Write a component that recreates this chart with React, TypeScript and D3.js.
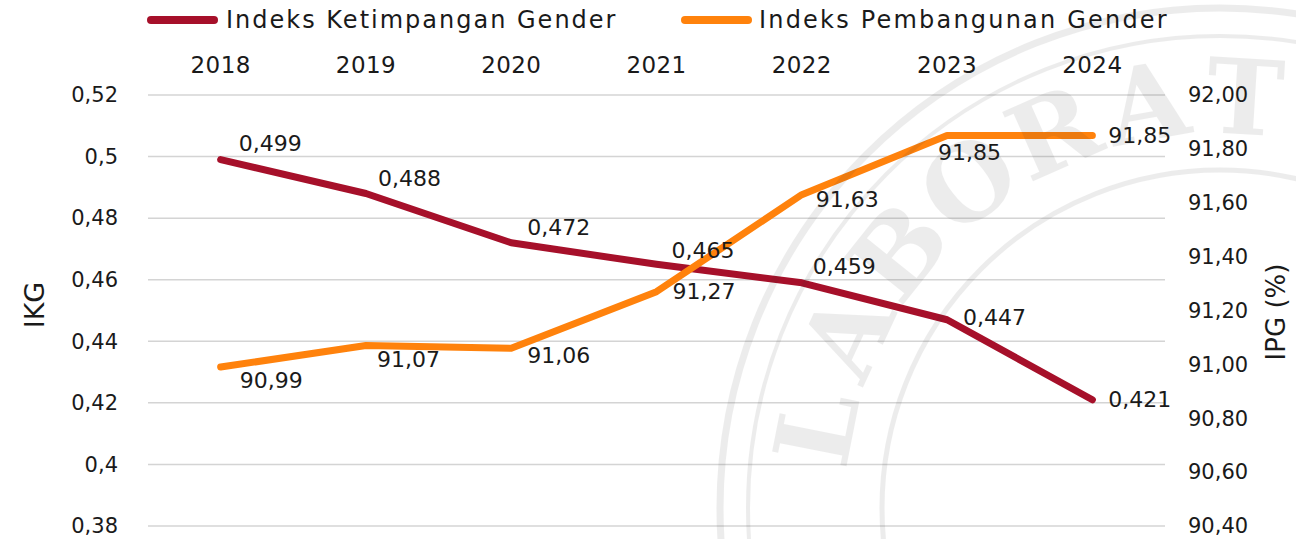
import React from "react";
import * as d3 from "d3";

const years = ["2018", "2019", "2020", "2021", "2022", "2023", "2024"];
const ikgValues = [0.499, 0.488, 0.472, 0.465, 0.459, 0.447, 0.421];
const ipgValues = [90.99, 91.07, 91.06, 91.27, 91.63, 91.85, 91.85];
const ikgTicks = [0.38, 0.4, 0.42, 0.44, 0.46, 0.48, 0.5, 0.52];
const ipgTicks = [90.4, 90.6, 90.8, 91.0, 91.2, 91.4, 91.6, 91.8, 92.0];
const seriesNames = ["Indeks Ketimpangan Gender", "Indeks Pembangunan Gender"];
const watermarkLetters = ["L", "A", "B", "O", "R", "A", "T"];

// label placement (layout only)
const ikgLabelOffsets: [number, number][] = [[18, -16], [12, -15], [16, -15], [15, -14], [11, -16], [16, -2], [16, 0]];
const ipgLabelOffsets: [number, number][] = [[19, 13], [11, 14], [16, 7], [16, 0], [14, 5], [-9, 17], [16, 0]];

const W = 1296;
const H = 539;
const FONT = "'DejaVu Sans', sans-serif";
const RED = "#A6102A";
const ORANGE = "#FF820C";
const TEXT = "#1a1a1a";

const fmtIkg = (v: number) => String(+v.toFixed(3)).replace(".", ",");
const fmtIpg = (v: number) => v.toFixed(2).replace(".", ",");

export default function App() {
  const x = d3.scaleBand<string>().domain(years).range([148, 1165]).padding(0);
  const cx = (d: string) => (x(d) as number) + x.bandwidth() / 2;
  const yL = d3.scaleLinear().domain([0.38, 0.52]).range([526, 95]);
  const yR = d3.scaleLinear().domain([90.4, 92.0]).range([526, 95]);

  const line = d3.line<[number, number]>().x((d) => d[0]).y((d) => d[1]);
  const ikgPts: [number, number][] = years.map((yr, i) => [cx(yr), yL(ikgValues[i])]);
  const ipgPts: [number, number][] = years.map((yr, i) => [cx(yr), yR(ipgValues[i])]);

  // watermark geometry (decorative)
  const wcx = 1220, wcy = 508, rText = 412;
  const angle = d3.scaleLinear().domain([0, watermarkLetters.length - 1]).range([-168.8, -86.5]);

  return (
    <svg width={W} height={H} style={{ position: "absolute", left: 0, top: 0, background: "#fff" }} fontFamily={FONT}>
      <rect width={W} height={H} fill="#fff" />
      {/* gridlines */}
      {ikgTicks.map((t) => (
        <line key={t} x1={148} x2={1165} y1={yL(t)} y2={yL(t)} stroke="#d4d4d4" strokeWidth={1.5} />
      ))}
      {/* left ticks */}
      {ikgTicks.map((t) => (
        <text key={t} x={118} y={yL(t)} dy="0.35em" textAnchor="end" fontSize={21} fill={TEXT}>
          {fmtIkg(t)}
        </text>
      ))}
      {/* right ticks */}
      {ipgTicks.map((t) => (
        <text key={t} x={1188} y={yR(t)} dy="0.35em" textAnchor="start" fontSize={21} fill={TEXT}>
          {fmtIpg(t)}
        </text>
      ))}
      {/* top year labels */}
      {years.map((yr) => (
        <text key={yr} x={cx(yr)} y={65} dy="0.35em" textAnchor="middle" fontSize={23} letterSpacing={0.4} fill={TEXT}>
          {yr}
        </text>
      ))}
      {/* axis titles */}
      <text transform="translate(35,305) rotate(-90)" textAnchor="middle" dy="0.35em" fontSize={27} fill={TEXT}>
        IKG
      </text>
      <text transform="translate(1276,312) rotate(-90)" textAnchor="middle" dy="0.35em" fontSize={26} fill={TEXT}>
        IPG (%)
      </text>
      {/* lines */}
      <path d={line(ikgPts) || ""} fill="none" stroke={RED} strokeWidth={7} strokeLinejoin="round" strokeLinecap="round" />
      <path d={line(ipgPts) || ""} fill="none" stroke={ORANGE} strokeWidth={7} strokeLinejoin="round" strokeLinecap="round" />
      {/* data labels */}
      {ikgPts.map((p, i) => (
        <text key={"k" + i} x={p[0] + ikgLabelOffsets[i][0]} y={p[1] + ikgLabelOffsets[i][1]} dy="0.35em" fontSize={22} fill={TEXT}>
          {fmtIkg(ikgValues[i])}
        </text>
      ))}
      {ipgPts.map((p, i) => (
        <text key={"p" + i} x={p[0] + ipgLabelOffsets[i][0]} y={p[1] + ipgLabelOffsets[i][1]} dy="0.35em" fontSize={22} fill={TEXT}>
          {fmtIpg(ipgValues[i])}
        </text>
      ))}
      {/* legend */}
      <line x1={151} x2={214} y1={20} y2={20} stroke={RED} strokeWidth={8} strokeLinecap="round" />
      <text x={226} y={20} dy="0.35em" fontSize={24} letterSpacing={2} fill={TEXT}>
        {seriesNames[0]}
      </text>
      <line x1={685} x2={748} y1={20} y2={20} stroke={ORANGE} strokeWidth={8} strokeLinecap="round" />
      <text x={759} y={20} dy="0.35em" fontSize={24} letterSpacing={2.2} fill={TEXT}>
        {seriesNames[1]}
      </text>
      {/* faint watermark */}
      <g opacity={0.085} pointerEvents="none">
        <circle cx={wcx} cy={wcy} r={500} fill="none" stroke="#333" strokeWidth={7} />
        <circle cx={wcx} cy={wcy} r={472} fill="none" stroke="#333" strokeWidth={4} />
        <circle cx={wcx} cy={wcy} r={338} fill="none" stroke="#333" strokeWidth={5} />
        {watermarkLetters.map((ch, i) => {
          const a = angle(i);
          const rad = (a * Math.PI) / 180;
          const px = wcx + rText * Math.cos(rad);
          const py = wcy + rText * Math.sin(rad);
          return (
            <text
              key={"w" + i}
              transform={`translate(${px},${py}) rotate(${a + 90})`}
              textAnchor="middle"
              dy="0.36em"
              fontFamily="'DejaVu Serif', serif"
              fontWeight="bold"
              fontSize={104}
              fill="#333"
            >
              {ch}
            </text>
          );
        })}
      </g>
    </svg>
  );
}
